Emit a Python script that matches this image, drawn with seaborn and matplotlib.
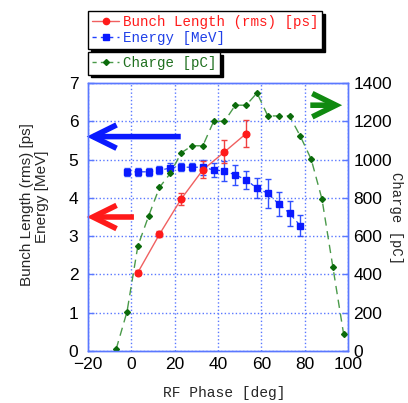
import numpy as np
import pandas as pd
import matplotlib
matplotlib.use("Agg")
import matplotlib.pyplot as plt
from matplotlib.lines import Line2D
import seaborn as sns

# ---- data ----
energy_phase = [-2, 3, 8, 13, 18, 23, 28, 33, 38, 43, 48, 53, 58, 63, 68, 73, 78]
energy_mev = [4.68, 4.68, 4.68, 4.72, 4.78, 4.80, 4.80, 4.80, 4.73, 4.70, 4.60, 4.47, 4.25, 4.12, 3.84, 3.60, 3.27]
energy_err = [0.10, 0.10, 0.10, 0.10, 0.12, 0.10, 0.10, 0.20, 0.19, 0.26, 0.27, 0.23, 0.26, 0.38, 0.32, 0.33, 0.27]

bunch_phase = [3, 13, 23, 33, 43, 53]
bunch_ps = [2.05, 3.05, 3.97, 4.73, 5.20, 5.68]
bunch_err = [0.06, 0.08, 0.15, 0.22, 0.30, 0.35]

charge_phase = [-7, -2, 3, 8, 13, 18, 23, 28, 33, 38, 43, 48, 53, 58, 63, 68, 73, 78, 83, 88, 93, 98]
charge_pc = [10, 205, 548, 706, 855, 928, 1035, 1072, 1072, 1200, 1200, 1284, 1284, 1348,
             1228, 1228, 1228, 1122, 1002, 793, 440, 87]

x_ticks = [-20, 0, 20, 40, 60, 80, 100]
left_ticks = [0, 1, 2, 3, 4, 5, 6, 7]
right_ticks = [0, 200, 400, 600, 800, 1000, 1200, 1400]

RED = "#ff1a1a"
RED_LINE = "#f06060"
BLUE = "#0a1aff"
GREEN = "#0b6b0b"
GREEN_LINE = "#4a9a4a"
AX_BLUE = "#5a78ff"

sns.set_style("white")
plt.rcParams["font.family"] = ["Liberation Sans Narrow", "Liberation Sans", "DejaVu Sans"]
MONO = ["Liberation Mono", "DejaVu Sans Mono"]

fig = plt.figure(figsize=(4.08, 4.03), dpi=100)
ax = fig.add_axes([88 / 408, 1 - 351 / 403, 260 / 408, 268 / 403])
ax2 = ax.twinx()

df_e = pd.DataFrame({"phase": energy_phase, "val": energy_mev})
df_b = pd.DataFrame({"phase": bunch_phase, "val": bunch_ps})
df_c = pd.DataFrame({"phase": charge_phase, "val": charge_pc})

# charge (right axis)
sns.lineplot(data=df_c, x="phase", y="val", ax=ax2, color=GREEN_LINE, lw=1.0,
             linestyle=(0, (6, 4)), legend=False)
ax2.plot(charge_phase, charge_pc, linestyle="none", marker="D", ms=3.0,
         color=GREEN, mec=GREEN)

# energy
ax.errorbar(energy_phase, energy_mev, yerr=energy_err, fmt="none", ecolor="#3050ff",
            elinewidth=1.0, capsize=2.5, capthick=1.0, zorder=3)
sns.lineplot(data=df_e, x="phase", y="val", ax=ax, color="#2040ff", lw=0.9,
             linestyle=(0, (3, 3)), legend=False, zorder=4)
ax.plot(energy_phase, energy_mev, linestyle="none", marker="s", ms=4.8,
        color=BLUE, mec=BLUE, zorder=5)

# bunch length
ax.errorbar(bunch_phase, bunch_ps, yerr=bunch_err, fmt="none", ecolor="#f04040",
            elinewidth=1.0, capsize=2.5, capthick=1.0, zorder=3)
sns.lineplot(data=df_b, x="phase", y="val", ax=ax, color=RED_LINE, lw=1.0,
             legend=False, zorder=4)
ax.plot(bunch_phase, bunch_ps, linestyle="none", marker="o", ms=4.8,
        color=RED, mec=RED, zorder=5)

# axes
ax.set_xlim(-20, 100)
ax.set_ylim(0, 7)
ax2.set_ylim(0, 1400)
ax.set_xticks(x_ticks)
ax.set_yticks(left_ticks)
ax2.set_yticks(right_ticks)
ax.grid(True, color=AX_BLUE, linestyle=":", lw=1.0)
ax.set_axisbelow(True)
for a in (ax, ax2):
    for s in a.spines.values():
        s.set_color(AX_BLUE)
        s.set_linewidth(1.0)
ax.tick_params(axis="both", direction="in", colors=AX_BLUE, length=4, width=1,
               labelcolor="black", labelsize=12.5)
ax.tick_params(axis="y", pad=7)
ax.tick_params(axis="x", pad=4)
ax2.tick_params(axis="y", direction="in", colors=AX_BLUE, length=4, width=1,
                labelcolor="black", labelsize=12.5, pad=4)

ax.set_xlabel("")
ax.set_ylabel("")
ax2.set_ylabel("")
fig.text(224 / 408, 1 - 393 / 403, "RF Phase [deg]", ha="center", va="center",
         family=MONO, fontsize=10.5)
fig.text(27 / 408, 1 - 205 / 403, "Bunch Length (rms) [ps]", rotation=90,
         ha="center", va="center", fontsize=11)
fig.text(42 / 408, 1 - 197 / 403, "Energy [MeV]", rotation=90,
         ha="center", va="center", fontsize=11)
fig.text(396 / 408, 1 - 218 / 403, "Charge [pC]", rotation=270,
         ha="center", va="center", family=MONO, fontsize=10)

# arrows
ap = dict(arrowstyle="->,head_length=0.85,head_width=0.42", lw=4, mutation_scale=20,
          shrinkA=0, shrinkB=0, joinstyle="miter", capstyle="butt")
ax.annotate("", xy=(-20.6, 5.6), xytext=(22.8, 5.6), annotation_clip=False,
            arrowprops=dict(ap, color=BLUE))
ax.annotate("", xy=(-20.6, 3.5), xytext=(1.2, 3.5), annotation_clip=False,
            arrowprops=dict(ap, color=RED))
ax2.annotate("", xy=(97.3, 1284), xytext=(82.6, 1284), annotation_clip=False,
             arrowprops=dict(ap, color="#108a10"))

# legends
h_b = Line2D([], [], color=RED_LINE, lw=1.0, marker="o", ms=4.5, mfc=RED, mec=RED)
h_e = Line2D([], [], color="#2040ff", lw=1.0, linestyle=(0, (3, 3)), marker="s", ms=4.5,
             mfc=BLUE, mec=BLUE)
h_c = Line2D([], [], color=GREEN_LINE, lw=1.0, linestyle=(0, (3, 3)), marker="D", ms=3,
             mfc=GREEN, mec=GREEN)
shadow = {"color": "black", "alpha": 1.0}
leg1 = fig.legend([h_b, h_e], ["Bunch Length (rms) [ps]", "Energy [MeV]"],
                  loc="upper left", bbox_to_anchor=(88 / 408, 1 - 11 / 403),
                  borderaxespad=0, fancybox=False, shadow=shadow, edgecolor="black",
                  framealpha=1, handlelength=1.9, handletextpad=0.25,
                  labelspacing=0.1, borderpad=0.3, prop={"family": MONO, "size": 10.2})
leg1.get_frame().set_linewidth(1.0)
for t, c in zip(leg1.get_texts(), [RED, "#2040e8"]):
    t.set_color(c)
leg2 = fig.legend([h_c], ["Charge [pC]"],
                  loc="upper left", bbox_to_anchor=(88 / 408, 1 - 52 / 403),
                  borderaxespad=0, fancybox=False, shadow=shadow, edgecolor="black",
                  framealpha=1, handlelength=1.9, handletextpad=0.25,
                  borderpad=0.3, prop={"family": MONO, "size": 10.2})
leg2.get_frame().set_linewidth(1.0)
leg2.get_texts()[0].set_color("#207020")

fig.savefig("out.png", dpi=100)
